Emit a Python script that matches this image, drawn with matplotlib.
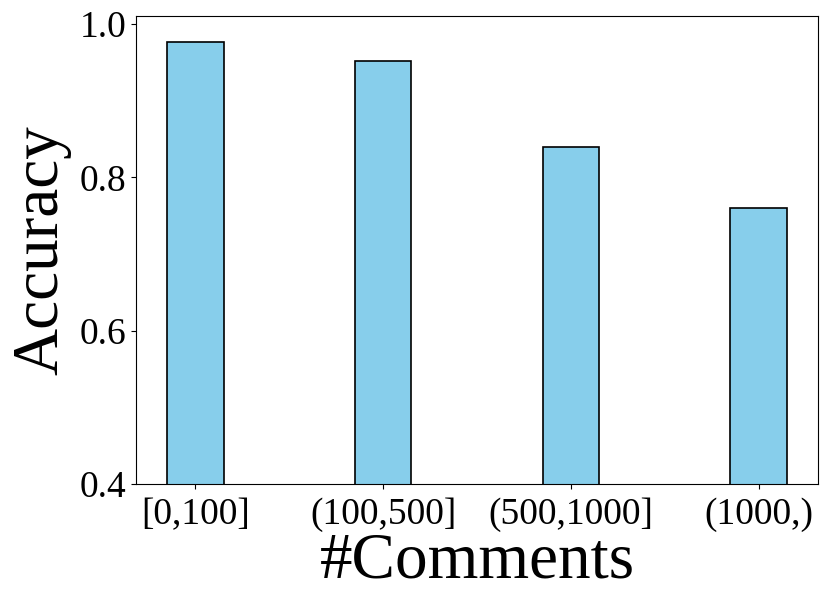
import matplotlib
matplotlib.use("Agg")
import matplotlib.pyplot as plt

# Datos
categorias = ["[0,100]", "(100,500]", "(500,1000]", "(1000,)"]
precision = [0.977, 0.952, 0.840, 0.760]

plt.rcParams['font.family'] = ['Liberation Serif', 'DejaVu Serif']

fig, ax = plt.subplots(figsize=(8.31, 6.03), dpi=100)
fig.subplots_adjust(left=0.164, right=0.984, top=0.973, bottom=0.197)

x = range(len(categorias))
ax.bar(x, precision, width=0.3, color='skyblue', edgecolor='black', linewidth=1.2)
ax.set_xticks(list(x))
ax.set_xticklabels(categorias)
ax.set_ylim(0.4, 1.01)
ax.set_yticks([0.4, 0.6, 0.8, 1.0])
ax.set_yticklabels(["0.4", "0.6", "0.8", "1.0"])
ax.tick_params(labelsize=27)
ax.tick_params(axis='x', pad=6)
ax.set_xlabel("#Comments", fontsize=47, labelpad=0)
ax.set_ylabel("Accuracy", fontsize=47, labelpad=6)

fig.savefig("out.png", dpi=100)
